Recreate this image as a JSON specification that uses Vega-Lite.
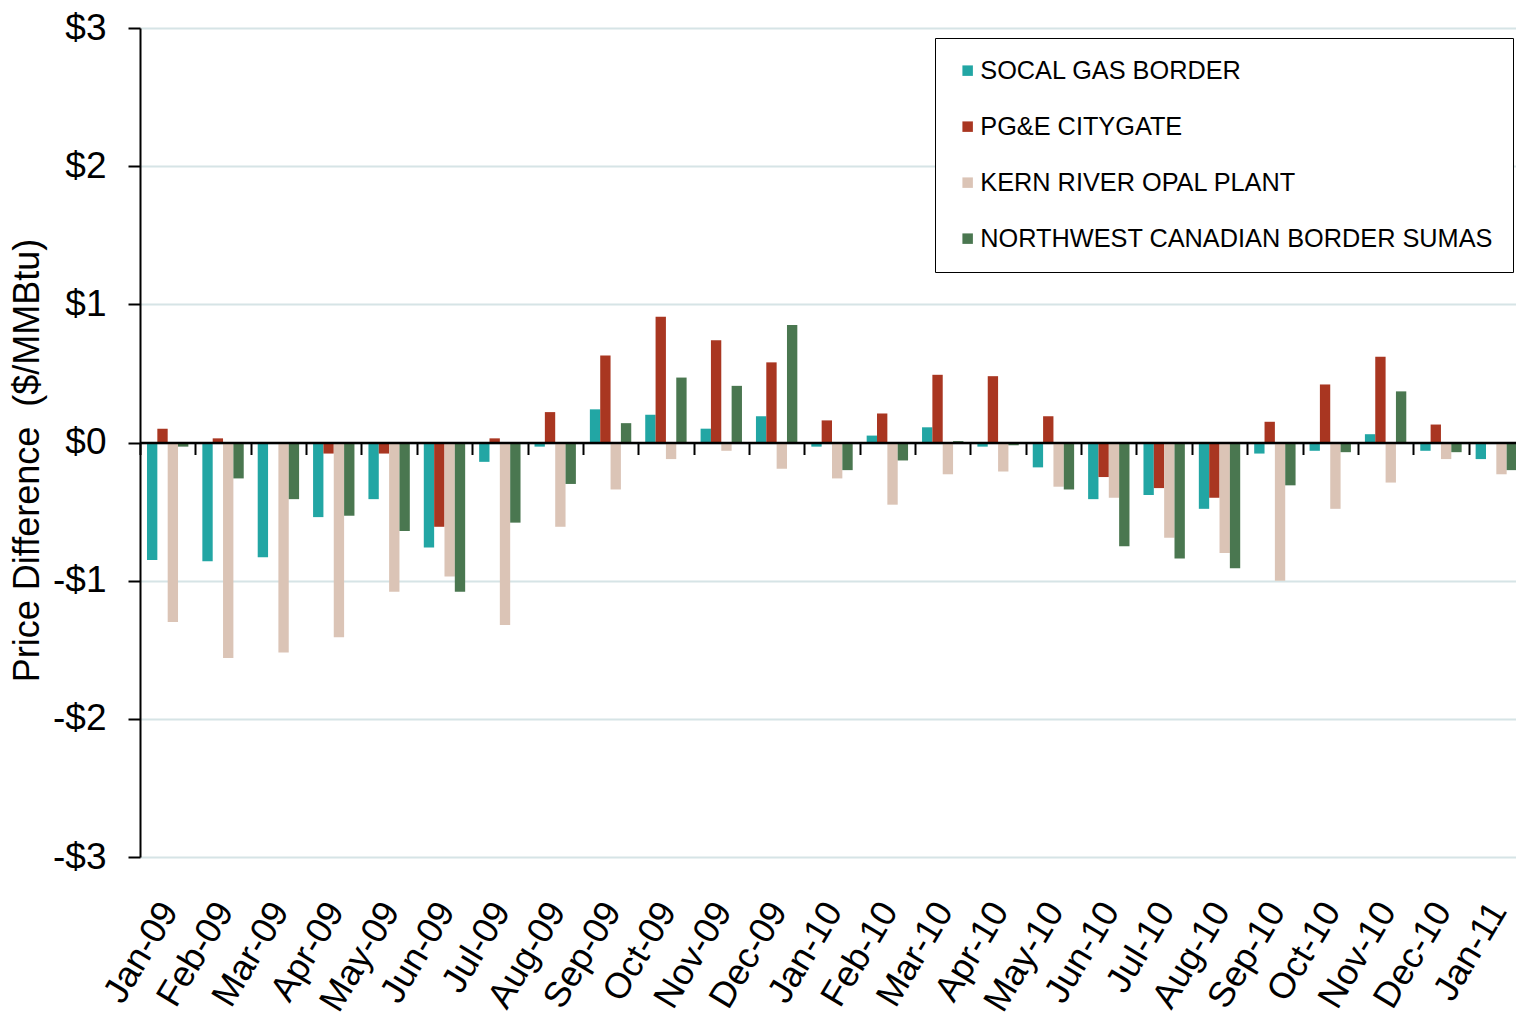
{
  "$schema": "https://vega.github.io/schema/vega-lite/v6.json",
  "width": 1384,
  "height": 829,
  "autosize": {"type": "none"},
  "padding": {"left": 140, "top": 28, "right": 0, "bottom": 162},
  "background": "white",
  "config": {"view": {"stroke": null}, "font": "Liberation Sans"},
  "datasets": {
    "prices": [
      {"m": "Jan-09", "s": "SOCAL GAS BORDER", "v": -0.85}, {"m": "Jan-09", "s": "PG&E CITYGATE", "v": 0.10}, {"m": "Jan-09", "s": "KERN RIVER OPAL PLANT", "v": -1.30}, {"m": "Jan-09", "s": "NORTHWEST CANADIAN BORDER SUMAS", "v": -0.03},
      {"m": "Feb-09", "s": "SOCAL GAS BORDER", "v": -0.86}, {"m": "Feb-09", "s": "PG&E CITYGATE", "v": 0.03}, {"m": "Feb-09", "s": "KERN RIVER OPAL PLANT", "v": -1.56}, {"m": "Feb-09", "s": "NORTHWEST CANADIAN BORDER SUMAS", "v": -0.26},
      {"m": "Mar-09", "s": "SOCAL GAS BORDER", "v": -0.83}, {"m": "Mar-09", "s": "KERN RIVER OPAL PLANT", "v": -1.52}, {"m": "Mar-09", "s": "NORTHWEST CANADIAN BORDER SUMAS", "v": -0.41},
      {"m": "Apr-09", "s": "SOCAL GAS BORDER", "v": -0.54}, {"m": "Apr-09", "s": "PG&E CITYGATE", "v": -0.08}, {"m": "Apr-09", "s": "KERN RIVER OPAL PLANT", "v": -1.41}, {"m": "Apr-09", "s": "NORTHWEST CANADIAN BORDER SUMAS", "v": -0.53},
      {"m": "May-09", "s": "SOCAL GAS BORDER", "v": -0.41}, {"m": "May-09", "s": "PG&E CITYGATE", "v": -0.08}, {"m": "May-09", "s": "KERN RIVER OPAL PLANT", "v": -1.08}, {"m": "May-09", "s": "NORTHWEST CANADIAN BORDER SUMAS", "v": -0.64},
      {"m": "Jun-09", "s": "SOCAL GAS BORDER", "v": -0.76}, {"m": "Jun-09", "s": "PG&E CITYGATE", "v": -0.61}, {"m": "Jun-09", "s": "KERN RIVER OPAL PLANT", "v": -0.97}, {"m": "Jun-09", "s": "NORTHWEST CANADIAN BORDER SUMAS", "v": -1.08},
      {"m": "Jul-09", "s": "SOCAL GAS BORDER", "v": -0.14}, {"m": "Jul-09", "s": "PG&E CITYGATE", "v": 0.03}, {"m": "Jul-09", "s": "KERN RIVER OPAL PLANT", "v": -1.32}, {"m": "Jul-09", "s": "NORTHWEST CANADIAN BORDER SUMAS", "v": -0.58},
      {"m": "Aug-09", "s": "SOCAL GAS BORDER", "v": -0.03}, {"m": "Aug-09", "s": "PG&E CITYGATE", "v": 0.22}, {"m": "Aug-09", "s": "KERN RIVER OPAL PLANT", "v": -0.61}, {"m": "Aug-09", "s": "NORTHWEST CANADIAN BORDER SUMAS", "v": -0.30},
      {"m": "Sep-09", "s": "SOCAL GAS BORDER", "v": 0.24}, {"m": "Sep-09", "s": "PG&E CITYGATE", "v": 0.63}, {"m": "Sep-09", "s": "KERN RIVER OPAL PLANT", "v": -0.34}, {"m": "Sep-09", "s": "NORTHWEST CANADIAN BORDER SUMAS", "v": 0.14},
      {"m": "Oct-09", "s": "SOCAL GAS BORDER", "v": 0.20}, {"m": "Oct-09", "s": "PG&E CITYGATE", "v": 0.91}, {"m": "Oct-09", "s": "KERN RIVER OPAL PLANT", "v": -0.12}, {"m": "Oct-09", "s": "NORTHWEST CANADIAN BORDER SUMAS", "v": 0.47},
      {"m": "Nov-09", "s": "SOCAL GAS BORDER", "v": 0.10}, {"m": "Nov-09", "s": "PG&E CITYGATE", "v": 0.74}, {"m": "Nov-09", "s": "KERN RIVER OPAL PLANT", "v": -0.06}, {"m": "Nov-09", "s": "NORTHWEST CANADIAN BORDER SUMAS", "v": 0.41},
      {"m": "Dec-09", "s": "SOCAL GAS BORDER", "v": 0.19}, {"m": "Dec-09", "s": "PG&E CITYGATE", "v": 0.58}, {"m": "Dec-09", "s": "KERN RIVER OPAL PLANT", "v": -0.19}, {"m": "Dec-09", "s": "NORTHWEST CANADIAN BORDER SUMAS", "v": 0.85},
      {"m": "Jan-10", "s": "SOCAL GAS BORDER", "v": -0.03}, {"m": "Jan-10", "s": "PG&E CITYGATE", "v": 0.16}, {"m": "Jan-10", "s": "KERN RIVER OPAL PLANT", "v": -0.26}, {"m": "Jan-10", "s": "NORTHWEST CANADIAN BORDER SUMAS", "v": -0.20},
      {"m": "Feb-10", "s": "SOCAL GAS BORDER", "v": 0.05}, {"m": "Feb-10", "s": "PG&E CITYGATE", "v": 0.21}, {"m": "Feb-10", "s": "KERN RIVER OPAL PLANT", "v": -0.45}, {"m": "Feb-10", "s": "NORTHWEST CANADIAN BORDER SUMAS", "v": -0.13},
      {"m": "Mar-10", "s": "SOCAL GAS BORDER", "v": 0.11}, {"m": "Mar-10", "s": "PG&E CITYGATE", "v": 0.49}, {"m": "Mar-10", "s": "KERN RIVER OPAL PLANT", "v": -0.23}, {"m": "Mar-10", "s": "NORTHWEST CANADIAN BORDER SUMAS", "v": 0.01},
      {"m": "Apr-10", "s": "SOCAL GAS BORDER", "v": -0.03}, {"m": "Apr-10", "s": "PG&E CITYGATE", "v": 0.48}, {"m": "Apr-10", "s": "KERN RIVER OPAL PLANT", "v": -0.21}, {"m": "Apr-10", "s": "NORTHWEST CANADIAN BORDER SUMAS", "v": -0.02},
      {"m": "May-10", "s": "SOCAL GAS BORDER", "v": -0.18}, {"m": "May-10", "s": "PG&E CITYGATE", "v": 0.19}, {"m": "May-10", "s": "KERN RIVER OPAL PLANT", "v": -0.32}, {"m": "May-10", "s": "NORTHWEST CANADIAN BORDER SUMAS", "v": -0.34},
      {"m": "Jun-10", "s": "SOCAL GAS BORDER", "v": -0.41}, {"m": "Jun-10", "s": "PG&E CITYGATE", "v": -0.25}, {"m": "Jun-10", "s": "KERN RIVER OPAL PLANT", "v": -0.40}, {"m": "Jun-10", "s": "NORTHWEST CANADIAN BORDER SUMAS", "v": -0.75},
      {"m": "Jul-10", "s": "SOCAL GAS BORDER", "v": -0.38}, {"m": "Jul-10", "s": "PG&E CITYGATE", "v": -0.33}, {"m": "Jul-10", "s": "KERN RIVER OPAL PLANT", "v": -0.69}, {"m": "Jul-10", "s": "NORTHWEST CANADIAN BORDER SUMAS", "v": -0.84},
      {"m": "Aug-10", "s": "SOCAL GAS BORDER", "v": -0.48}, {"m": "Aug-10", "s": "PG&E CITYGATE", "v": -0.40}, {"m": "Aug-10", "s": "KERN RIVER OPAL PLANT", "v": -0.80}, {"m": "Aug-10", "s": "NORTHWEST CANADIAN BORDER SUMAS", "v": -0.91},
      {"m": "Sep-10", "s": "SOCAL GAS BORDER", "v": -0.08}, {"m": "Sep-10", "s": "PG&E CITYGATE", "v": 0.15}, {"m": "Sep-10", "s": "KERN RIVER OPAL PLANT", "v": -1.00}, {"m": "Sep-10", "s": "NORTHWEST CANADIAN BORDER SUMAS", "v": -0.31},
      {"m": "Oct-10", "s": "SOCAL GAS BORDER", "v": -0.06}, {"m": "Oct-10", "s": "PG&E CITYGATE", "v": 0.42}, {"m": "Oct-10", "s": "KERN RIVER OPAL PLANT", "v": -0.48}, {"m": "Oct-10", "s": "NORTHWEST CANADIAN BORDER SUMAS", "v": -0.07},
      {"m": "Nov-10", "s": "SOCAL GAS BORDER", "v": 0.06}, {"m": "Nov-10", "s": "PG&E CITYGATE", "v": 0.62}, {"m": "Nov-10", "s": "KERN RIVER OPAL PLANT", "v": -0.29}, {"m": "Nov-10", "s": "NORTHWEST CANADIAN BORDER SUMAS", "v": 0.37},
      {"m": "Dec-10", "s": "SOCAL GAS BORDER", "v": -0.06}, {"m": "Dec-10", "s": "PG&E CITYGATE", "v": 0.13}, {"m": "Dec-10", "s": "KERN RIVER OPAL PLANT", "v": -0.12}, {"m": "Dec-10", "s": "NORTHWEST CANADIAN BORDER SUMAS", "v": -0.07},
      {"m": "Jan-11", "s": "SOCAL GAS BORDER", "v": -0.12}, {"m": "Jan-11", "s": "KERN RIVER OPAL PLANT", "v": -0.23}, {"m": "Jan-11", "s": "NORTHWEST CANADIAN BORDER SUMAS", "v": -0.20}
    ]
  },
  "data": {"name": "prices"},
  "resolve": {"axis": {"x": "independent"}},
  "layer": [
    {
      "mark": {"type": "bar"},
      "encoding": {
        "x": {
          "field": "m", "type": "nominal", "sort": null,
          "scale": {"paddingInner": 0, "paddingOuter": 0},
          "axis": {"orient": "bottom", "offset": -414.5, "labels": false, "title": null, "grid": false,
                   "domainColor": "black", "domainWidth": 2.5, "ticks": true, "tickBand": "extent",
                   "tickColor": "black", "tickSize": 12, "tickWidth": 2, "zindex": 1}
        },
        "xOffset": {"field": "s", "type": "nominal",
          "scale": {"domain": ["SOCAL GAS BORDER", "PG&E CITYGATE", "KERN RIVER OPAL PLANT", "NORTHWEST CANADIAN BORDER SUMAS"],
                    "paddingInner": 0, "paddingOuter": 0.676}},
        "y": {
          "field": "v", "type": "quantitative",
          "scale": {"domain": [-3, 3], "nice": false},
          "axis": {"values": [-3, -2, -1, 0, 1, 2, 3],
                   "labelExpr": "datum.value < 0 ? '-$' + abs(datum.value) : '$' + datum.value",
                   "labelFontSize": 37, "labelColor": "black", "labelPadding": 22,
                   "domainColor": "black", "domainWidth": 2, "tickColor": "black", "tickSize": 12, "tickWidth": 2,
                   "grid": true, "gridColor": "#d6e4e6", "gridWidth": 2,
                   "title": "Price Difference \u00a0($/MMBtu)", "titleFontSize": 36, "titleFontWeight": "normal",
                   "titleColor": "black", "titleAngle": -90, "titleAlign": "center", "titleBaseline": "middle",
                   "titleX": -113, "titleY": 432}
        },
        "color": {
          "field": "s", "type": "nominal",
          "scale": {"domain": ["SOCAL GAS BORDER", "PG&E CITYGATE", "KERN RIVER OPAL PLANT", "NORTHWEST CANADIAN BORDER SUMAS"],
                    "range": ["#22a6a4", "#a93621", "#dbc4b6", "#4a7750"]},
          "legend": {"title": null, "orient": "none", "legendX": 795, "legendY": 10, "direction": "vertical",
                     "symbolType": "square", "symbolSize": 110, "symbolStrokeWidth": 0,
                     "labelFontSize": 25.3, "labelColor": "black", "labelOffset": 0, "labelLimit": 0,
                     "rowPadding": 30, "padding": 20, "strokeColor": "black", "fillColor": "white"}
        }
      }
    },
    {
      "mark": {"type": "tick", "opacity": 0},
      "encoding": {
        "x": {
          "field": "m", "type": "nominal", "sort": null,
          "axis": {"orient": "bottom", "domain": false, "ticks": false, "tickSize": 0, "grid": false,
                   "labelAngle": -59, "labelAlign": "right", "labelBaseline": "middle",
                   "labelFontSize": 36, "labelColor": "black", "labelPadding": 48, "labelOffset": 2, "title": null}
        }
      }
    }
  ]
}
